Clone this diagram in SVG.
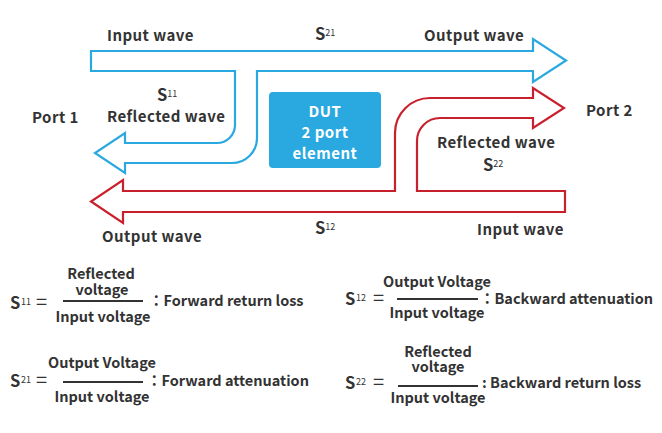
<svg xmlns="http://www.w3.org/2000/svg" width="662" height="433" viewBox="0 0 662 433">
<style>
text{font-family:"Noto Sans CJK JP","Noto Sans",sans-serif;font-weight:700;fill:#333}
.lbl{font-size:15px;letter-spacing:0.45px}
.S{font-size:16.5px}
.sub{font-size:9px;font-weight:400}
.eq{font-size:20px;font-weight:400}
.f{font-size:14.5px}
.c{text-anchor:middle}
.dut{fill:#fff;font-size:15px;letter-spacing:0.5px;text-anchor:middle}
.frac{stroke:#333;stroke-width:2}
</style>
<rect width="662" height="433" fill="#fff"/>
<g id="connectors" fill="#fff" stroke-width="2.2" stroke-linejoin="miter">
<path id="blue-wave" stroke="#2aa8e0" d="M91 51H533V39L566 60.5L533 82V71H257V138A25 25 0 0 1 232 163H125V173L95 153L125 133V143H217A18 18 0 0 0 235 125V71H91Z"/>
<path id="red-wave" stroke="#c9202e" d="M565 191V212H123V223L91 201.5L123 180V191H395V133A35 35 0 0 1 430 98H533V88L564 108L533 128V118H440A23 23 0 0 0 417 141V191Z"/>
</g>
<g id="dut">
<rect x="269" y="92" width="112" height="76" rx="4" fill="#2aa8e0"/>
<text class="dut" x="325" y="117">DUT</text>
<text class="dut" x="325" y="138">2 port</text>
<text class="dut" x="325" y="159">element</text>
</g>
<g id="labels">
<text class="lbl" x="107" y="41">Input wave</text>
<text x="315" y="40"><tspan class="S">S</tspan><tspan class="sub" dy="-4">21</tspan></text>
<text class="lbl" x="424" y="41">Output wave</text>
<text x="157" y="101"><tspan class="S">S</tspan><tspan class="sub" dy="-4">11</tspan></text>
<text class="lbl" x="107" y="122">Reflected wave</text>
<text class="lbl" x="32" y="123">Port 1</text>
<text class="lbl" x="586" y="116">Port 2</text>
<text class="lbl" x="437" y="148">Reflected wave</text>
<text x="483" y="171"><tspan class="S">S</tspan><tspan class="sub" dy="-4">22</tspan></text>
<text class="lbl" x="102" y="242">Output wave</text>
<text x="315" y="234"><tspan class="S">S</tspan><tspan class="sub" dy="-4">12</tspan></text>
<text class="lbl" x="477" y="235">Input wave</text>
</g>
<g id="eq-s11">
<text x="10" y="309"><tspan class="S">S</tspan><tspan class="sub" x="21" dy="-4">11</tspan><tspan class="eq" x="36" dy="4">=</tspan></text>
<text class="f c"><tspan x="101" y="279">Reflected</tspan><tspan x="102" y="295">voltage</tspan></text>
<line class="frac" x1="63" y1="301" x2="143" y2="301"/>
<text class="f c" x="103" y="322">Input voltage</text>
<text class="f" x="149" y="306">：Forward return loss</text>
</g>
<g id="eq-s12">
<text x="345" y="305"><tspan class="S">S</tspan><tspan class="sub" x="356" dy="-4">12</tspan><tspan class="eq" x="373" dy="4">=</tspan></text>
<text class="f c" x="437" y="287">Output Voltage</text>
<line class="frac" x1="397" y1="299" x2="478" y2="299"/>
<text class="f c" x="437" y="318">Input voltage</text>
<text class="f" x="480" y="304">：Backward attenuation</text>
</g>
<g id="eq-s21">
<text x="10" y="387"><tspan class="S">S</tspan><tspan class="sub" x="21" dy="-4">21</tspan><tspan class="eq" x="36" dy="4">=</tspan></text>
<text class="f c" x="102" y="368">Output Voltage</text>
<line class="frac" x1="63" y1="382" x2="143" y2="382"/>
<text class="f c" x="102" y="402">Input voltage</text>
<text class="f" x="147" y="386">：Forward attenuation</text>
</g>
<g id="eq-s22">
<text x="345" y="389"><tspan class="S">S</tspan><tspan class="sub" x="356" dy="-4">22</tspan><tspan class="eq" x="373" dy="4">=</tspan></text>
<text class="f c"><tspan x="438" y="357">Reflected</tspan><tspan x="438" y="372">voltage</tspan></text>
<line class="frac" x1="398" y1="386" x2="478" y2="386"/>
<text class="f c" x="438" y="403">Input voltage</text>
<text class="f" x="482" y="388">: Backward return loss</text>
</g>
</svg>
